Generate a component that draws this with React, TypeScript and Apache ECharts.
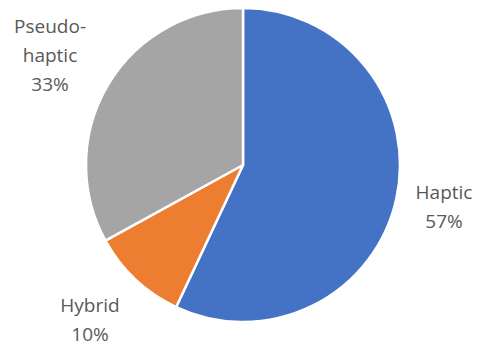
import React, { useEffect, useRef } from "react";
import * as echarts from "echarts";

const categories = ["Haptic", "Hybrid", "Pseudo-haptic"];
const values = [57, 10, 33];
const colors = ["#4472C4", "#ED7D31", "#A5A5A5"];

const labelPos: [number, number][] = [
  [444, 206],
  [90, 319],
  [50, 55],
];

export default function App() {
  const ref = useRef<HTMLDivElement>(null);
  useEffect(() => {
    if (!ref.current) return;
    const chart = echarts.init(ref.current, undefined, { renderer: "svg" });
    chart.setOption({
      animation: false,
      backgroundColor: "#ffffff",
      series: [
        {
          type: "pie",
          center: [243, 165],
          radius: 157,
          startAngle: 90,
          clockwise: true,
          avoidLabelOverlap: false,
          data: categories.map((c, i) => ({
            name: c,
            value: values[i],
            itemStyle: { color: colors[i] },
          })),
          itemStyle: { borderColor: "#ffffff", borderWidth: 2.5 },
          label: {
            show: true,
            position: "outside",
            alignTo: "none",
            overflow: "none",
            width: 200,
            formatter: (p: any) =>
              p.name.replace("-", "-\n") + "\n" + Math.round(p.percent) + "%",
            color: "#595959",
            fontFamily: "Open Sans",
            fontSize: 19,
            lineHeight: 29,
            align: "center",
            verticalAlign: "middle",
          },
          labelLine: { show: false },
          labelLayout: (params: any) => ({
            x: labelPos[params.dataIndex][0],
            y: labelPos[params.dataIndex][1],
            align: "center",
            verticalAlign: "middle",
            fontSize: 19,
          }),
          emphasis: { disabled: true },
        },
      ],
    });
    return () => chart.dispose();
  }, []);
  return (
    <div
      ref={ref}
      style={{ position: "absolute", left: 0, top: 0, width: 479, height: 347 }}
    />
  );
}
